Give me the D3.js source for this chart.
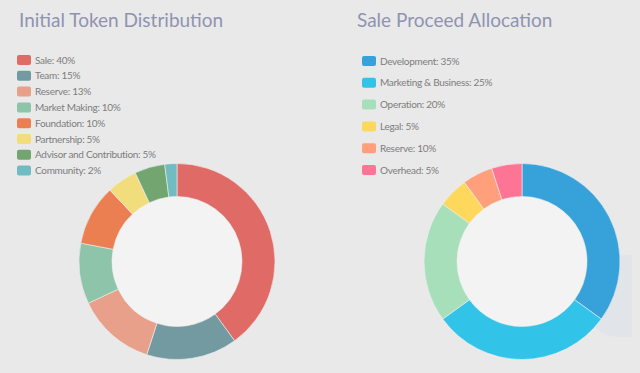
<!DOCTYPE html>
<html lang="en">
<head>
  <meta charset="UTF-8">
  <title>Token Distribution</title>
  <script src="https://cdn.jsdelivr.net/npm/d3@7"></script>
  <style>
    html, body { margin: 0; padding: 0; background: #e9e9e9; }
    svg { display: block; }
  </style>
</head>
<body>
  <script>

    // left chart data
    var tokenLabels = ["Sale: 40%", "Team: 15%", "Reserve: 13%", "Market Making: 10%",
      "Foundation: 10%", "Partnership: 5%", "Advisor and Contribution: 5%", "Community: 2%"];
    var tokenValues = [40, 15, 13, 10, 10, 5, 5, 2];
    var tokenColors = ["#e06b66", "#739aa0", "#e8a08a", "#8ec4aa",
      "#ec7f52", "#f1dd7c", "#72a56f", "#71bcc0"];

    var saleLabels = ["Development: 35%", "Marketing & Business: 25%", "Operation: 20%",
      "Legal: 5%", "Reserve: 10%", "Overhead: 5%"];
    var saleValues = [35, 30, 20, 5, 5, 5];
    var saleColors = ["#37a2d9", "#32c4e8", "#a7dfbb", "#fdd85d", "#ff9f7b", "#fe7495"];

    var width = 640, height = 373;

    var svg = d3.select("body")
      .append("svg")
        .attr("width", width)
        .attr("height", height);

    svg.append("rect")
      .attr("width", width)
      .attr("height", height)
      .attr("fill", "#e9e9e9");

    // faint panel peeking out behind the right ring
    svg.append("path")
      .attr("d", "M590,255 H632 V337 H620 Q590,337 590,307 Z")
      .attr("fill", "#e1e4e8");

    var drawChart = function(opts) {
      var g = svg.append("g");

      g.append("text")
        .attr("x", opts.titleX)
        .attr("y", 27)
        .attr("fill", "#8f93b1")
        .style("font-family", "Lato, 'Open Sans', sans-serif")
        .style("font-size", "19px")
        .text(opts.title);

      var legend = g.selectAll("g.item")
        .data(opts.labels)
        .enter()
        .append("g")
          .attr("class", "item")
          .attr("transform", function(d, i) {
            return "translate(" + opts.legendX + "," + (opts.legendY + i * opts.legendStep) + ")";
          });

      legend.append("rect")
        .attr("x", 0)
        .attr("y", -5)
        .attr("width", 14)
        .attr("height", 10)
        .attr("rx", 2)
        .attr("fill", function(d, i) { return opts.colors[i]; });

      legend.append("text")
        .attr("x", 18)
        .attr("y", 3.5)
        .attr("fill", "#7d7d7d")
        .style("font-family", "Lato, sans-serif")
        .style("font-size", "10px")
        .style("letter-spacing", "-0.3px")
        .text(function(d) { return d; });

      var pie = d3.pie().sort(null).value(function(d) { return d; });
      var arc = d3.arc().innerRadius(65).outerRadius(98);

      var ring = g.append("g")
        .attr("transform", "translate(" + opts.cx + "," + opts.cy + ")");

      ring.append("circle")
        .attr("r", 65)
        .attr("fill", "#f3f3f3");

      ring.selectAll("path")
        .data(pie(opts.values))
        .enter()
        .append("path")
          .attr("d", arc)
          .attr("fill", function(d, i) { return opts.colors[i]; })
          .attr("stroke", "#f0f0f0")
          .attr("stroke-width", 0.6);
    };

    drawChart({
      title: "Initial Token Distribution", titleX: 19,
      labels: tokenLabels, values: tokenValues, colors: tokenColors,
      legendX: 17, legendY: 60, legendStep: 15.8,
      cx: 177, cy: 261.5
    });

    drawChart({
      title: "Sale Proceed Allocation", titleX: 357,
      labels: saleLabels, values: saleValues, colors: saleColors,
      legendX: 362, legendY: 61, legendStep: 21.8,
      cx: 522, cy: 261.5
    });

  </script>
</body>
</html>
